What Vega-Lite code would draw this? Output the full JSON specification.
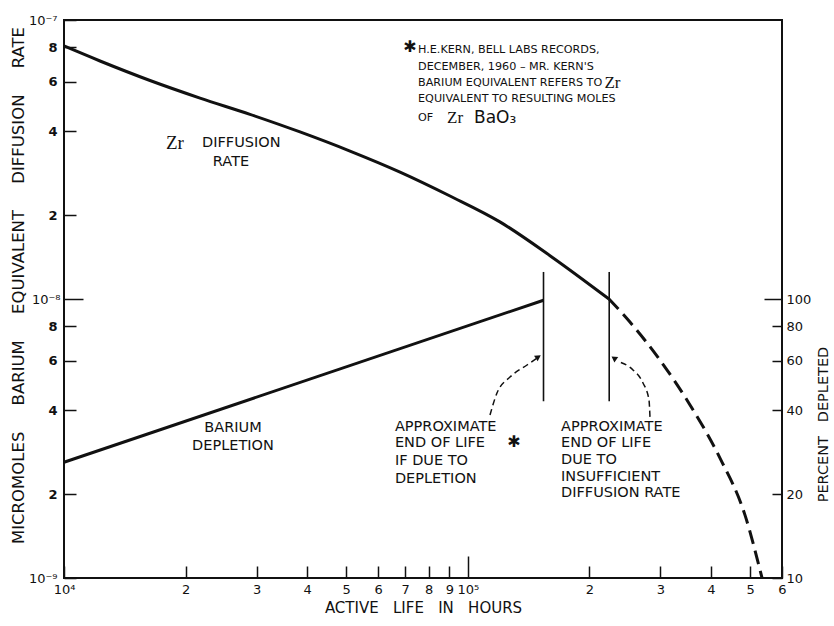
{
  "$schema": "https://vega.github.io/schema/vega-lite/v6.json",
  "width": 718,
  "height": 558,
  "autosize": {"type": "none"},
  "padding": {"left": 64, "top": 20, "right": 52, "bottom": 48},
  "background": "white",
  "config": {
    "view": {"stroke": "#111", "strokeWidth": 2},
    "font": "DejaVu Sans",
    "axis": {"domain": false, "grid": false, "labelFont": "DejaVu Sans", "titleFont": "DejaVu Sans", "labelColor": "#111", "titleColor": "#111", "tickColor": "#111", "tickWidth": 1.5, "titleFontWeight": "normal", "labelFlush": false, "labelOverlap": false}
  },
  "datasets": {
    "zr": [
      {"hours": 10000, "rate": 8.07e-8},
      {"hours": 12280, "rate": 7.13e-8},
      {"hours": 16330, "rate": 6.07e-8},
      {"hours": 21720, "rate": 5.25e-8},
      {"hours": 28880, "rate": 4.59e-8},
      {"hours": 38410, "rate": 3.97e-8},
      {"hours": 51080, "rate": 3.39e-8},
      {"hours": 67950, "rate": 2.85e-8},
      {"hours": 90360, "rate": 2.34e-8},
      {"hours": 120100, "rate": 1.89e-8},
      {"hours": 159800, "rate": 1.43e-8},
      {"hours": 223700, "rate": 1.0e-8}
    ],
    "zrdash": [
      {"hours": 223700, "rate": 1.0e-8},
      {"hours": 252100, "rate": 8.27e-9},
      {"hours": 299200, "rate": 6.04e-9},
      {"hours": 355100, "rate": 4.17e-9},
      {"hours": 421300, "rate": 2.69e-9},
      {"hours": 485900, "rate": 1.68e-9},
      {"hours": 535400, "rate": 1.0e-9}
    ],
    "barium": [
      {"hours": 10000, "percent": 26},
      {"hours": 154000, "percent": 99}
    ],
    "marks": [
      {"hours": 154000, "rate": 4.3e-9, "rate_top": 1.25e-8},
      {"hours": 224000, "rate": 4.3e-9, "rate_top": 1.25e-8}
    ],
    "arrows": [
      {"arrow": "a", "ord": 1, "hours": 113500, "rate": 3.84e-9},
      {"arrow": "a", "ord": 2, "hours": 118100, "rate": 4.6e-9},
      {"arrow": "a", "ord": 3, "hours": 127200, "rate": 5.25e-9},
      {"arrow": "a", "ord": 4, "hours": 140200, "rate": 5.8e-9},
      {"arrow": "a", "ord": 5, "hours": 148000, "rate": 6.12e-9},
      {"arrow": "b", "ord": 1, "hours": 282600, "rate": 3.78e-9},
      {"arrow": "b", "ord": 2, "hours": 281000, "rate": 4.35e-9},
      {"arrow": "b", "ord": 3, "hours": 271600, "rate": 5.0e-9},
      {"arrow": "b", "ord": 4, "hours": 256500, "rate": 5.57e-9},
      {"arrow": "b", "ord": 5, "hours": 238200, "rate": 5.94e-9}
    ],
    "headA": [{"hours": 149500, "rate": 6.2e-9}],
    "headB": [{"hours": 230100, "rate": 6.14e-9}],
    "note": [
      {"hours": 75290, "rate": 7.81e-8, "text": "H.E.KERN, BELL LABS RECORDS,"},
      {"hours": 75290, "rate": 6.79e-8, "text": "DECEMBER, 1960 – MR. KERN'S"},
      {"hours": 75290, "rate": 5.94e-8, "text": "BARIUM EQUIVALENT REFERS TO"},
      {"hours": 75290, "rate": 5.21e-8, "text": "EQUIVALENT TO RESULTING MOLES"},
      {"hours": 75290, "rate": 4.45e-8, "text": "OF"}
    ],
    "zrsym": [
      {"hours": 218000, "rate": 5.94e-8, "text": "Zr"},
      {"hours": 88830, "rate": 4.45e-8, "text": "Zr"}
    ],
    "zrbig": [
      {"hours": 17890, "rate": 3.62e-8, "text": "Zr"}
    ],
    "bao": [
      {"hours": 103600, "rate": 4.45e-8, "text": "BaO₃"}
    ],
    "stars": [
      {"hours": 71930, "rate": 8.0e-8, "text": "✱"},
      {"hours": 130200, "rate": 3.07e-9, "text": "✱"}
    ],
    "labelsLeft": [
      {"hours": 21970, "rate": 3.62e-8, "text": "DIFFUSION"},
      {"hours": 66010, "rate": 3.48e-9, "text": "APPROXIMATE"},
      {"hours": 66010, "rate": 3.05e-9, "text": "END OF LIFE"},
      {"hours": 66010, "rate": 2.63e-9, "text": "IF DUE TO"},
      {"hours": 66010, "rate": 2.26e-9, "text": "DEPLETION"},
      {"hours": 170200, "rate": 3.48e-9, "text": "APPROXIMATE"},
      {"hours": 170200, "rate": 3.05e-9, "text": "END OF LIFE"},
      {"hours": 170200, "rate": 2.65e-9, "text": "DUE TO"},
      {"hours": 170200, "rate": 2.3e-9, "text": "INSUFFICIENT"},
      {"hours": 170200, "rate": 2.02e-9, "text": "DIFFUSION RATE"}
    ],
    "labelsCenter": [
      {"hours": 25920, "rate": 3.1e-8, "text": "RATE"},
      {"hours": 26210, "rate": 3.45e-9, "text": "BARIUM"},
      {"hours": 26210, "rate": 2.97e-9, "text": "DEPLETION"}
    ]
  },
  "encoding": {
    "x": {
      "field": "hours", "type": "quantitative",
      "scale": {"type": "log", "domain": [10000, 600000]},
      "axis": {
        "title": "ACTIVE\u00a0\u00a0 LIFE\u00a0\u00a0 IN\u00a0\u00a0 HOURS",
        "values": [10000, 20000, 30000, 40000, 50000, 60000, 70000, 80000, 90000, 100000, 200000, 300000, 400000, 500000, 600000],
        "labelExpr": "datum.value == 10000 ? '10⁴' : datum.value == 100000 ? '10⁵' : (datum.value < 100000 ? round(datum.value / 10000) : round(datum.value / 100000)) + ''",
        "tickSize": {"condition": {"test": "datum.value == 100000", "value": -22}, "value": -12},
        "labelPadding": {"condition": {"test": "datum.value == 100000", "value": 27}, "value": 17},
        "labelFontSize": 13,
        "titleFontSize": 15,
        "titleY": 29,
        "titleBaseline": "middle"
      }
    }
  },
  "layer": [
    {
      "encoding": {
        "y": {
          "field": "rate", "type": "quantitative",
          "scale": {"type": "log", "domain": [1e-9, 1e-7]},
          "axis": {
            "title": "MICROMOLES\u00a0\u00a0\u00a0\u00a0 BARIUM\u00a0\u00a0\u00a0\u00a0 EQUIVALENT\u00a0\u00a0\u00a0\u00a0 DIFFUSION\u00a0\u00a0\u00a0\u00a0 RATE",
            "values": [1e-9, 2e-9, 4e-9, 6e-9, 8e-9, 1e-8, 2e-8, 4e-8, 6e-8, 8e-8, 1e-7],
            "labelExpr": "datum.value > 9e-8 ? '10⁻⁷' : datum.value == 1e-8 ? '10⁻⁸' : datum.value < 1.5e-9 ? '10⁻⁹' : (datum.value < 1e-8 ? round(datum.value * 1e9) : round(datum.value * 1e8)) + ''",
            "tickSize": {"condition": {"test": "datum.value == 1e-8", "value": -19}, "value": -12},
            "labelPadding": {"condition": {"test": "datum.value == 1e-8", "value": 23}, "value": 19},
            "labelFontWeight": {"condition": {"test": "datum.value > 9e-8 || datum.value == 1e-8 || datum.value < 1.5e-9", "value": "normal"}, "value": "bold"},
            "labelFontSize": 13,
            "titleFontSize": 16.5,
            "titleX": -46,
            "titleY": 265,
            "titleBaseline": "middle"
          }
        }
      },
      "layer": [
        {"data": {"name": "zr"}, "mark": {"type": "line", "color": "#111", "strokeWidth": 3, "interpolate": "monotone"}},
        {"data": {"name": "zrdash"}, "mark": {"type": "line", "color": "#111", "strokeWidth": 3, "strokeDash": [14, 7], "interpolate": "monotone"}},
        {"data": {"name": "marks"}, "mark": {"type": "rule", "color": "#111", "strokeWidth": 1.6}, "encoding": {"y2": {"field": "rate_top"}}},
        {"data": {"name": "arrows"}, "mark": {"type": "line", "color": "#111", "strokeWidth": 1.5, "strokeDash": [6, 4], "interpolate": "monotone"}, "encoding": {"detail": {"field": "arrow"}, "order": {"field": "ord"}}},
        {"data": {"name": "headA"}, "mark": {"type": "point", "shape": "triangle-right", "filled": true, "color": "#111", "size": 45, "angle": 327, "opacity": 1}},
        {"data": {"name": "headB"}, "mark": {"type": "point", "shape": "triangle-left", "filled": true, "color": "#111", "size": 45, "angle": 35, "opacity": 1}},
        {"data": {"name": "note"}, "mark": {"type": "text", "align": "left", "baseline": "middle", "fontSize": 11.2, "color": "#111"}, "encoding": {"text": {"field": "text"}}},
        {"data": {"name": "zrsym"}, "mark": {"type": "text", "align": "left", "baseline": "middle", "fontSize": 17, "font": "Liberation Serif", "color": "#111"}, "encoding": {"text": {"field": "text"}}},
        {"data": {"name": "zrbig"}, "mark": {"type": "text", "align": "left", "baseline": "middle", "fontSize": 19, "font": "Liberation Serif", "color": "#111"}, "encoding": {"text": {"field": "text"}}},
        {"data": {"name": "bao"}, "mark": {"type": "text", "align": "left", "baseline": "middle", "fontSize": 17, "color": "#111"}, "encoding": {"text": {"field": "text"}}},
        {"data": {"name": "stars"}, "mark": {"type": "text", "align": "center", "baseline": "middle", "fontSize": 16, "color": "#111"}, "encoding": {"text": {"field": "text"}}},
        {"data": {"name": "labelsLeft"}, "mark": {"type": "text", "align": "left", "baseline": "middle", "fontSize": 14.5, "color": "#111"}, "encoding": {"text": {"field": "text"}}},
        {"data": {"name": "labelsCenter"}, "mark": {"type": "text", "align": "center", "baseline": "middle", "fontSize": 14.5, "color": "#111"}, "encoding": {"text": {"field": "text"}}}
      ]
    },
    {
      "data": {"name": "barium"},
      "mark": {"type": "line", "color": "#111", "strokeWidth": 3},
      "encoding": {
        "y": {
          "field": "percent", "type": "quantitative",
          "scale": {"type": "log", "domain": [10, 1000]},
          "axis": {
            "orient": "right",
            "title": "PERCENT\u00a0\u00a0 DEPLETED",
            "values": [10, 20, 40, 60, 80, 100],
            "tickSize": {"condition": {"test": "datum.value == 100", "value": -18}, "value": -10},
            "labelPadding": {"condition": {"test": "datum.value == 100", "value": 22}, "value": 14},
            "labelFontSize": 13,
            "titleFontSize": 14.5,
            "titleAngle": 270,
            "titleX": 41,
            "titleY": 404,
            "titleBaseline": "middle"
          }
        }
      }
    }
  ],
  "resolve": {"scale": {"y": "independent"}, "axis": {"y": "independent"}}
}
